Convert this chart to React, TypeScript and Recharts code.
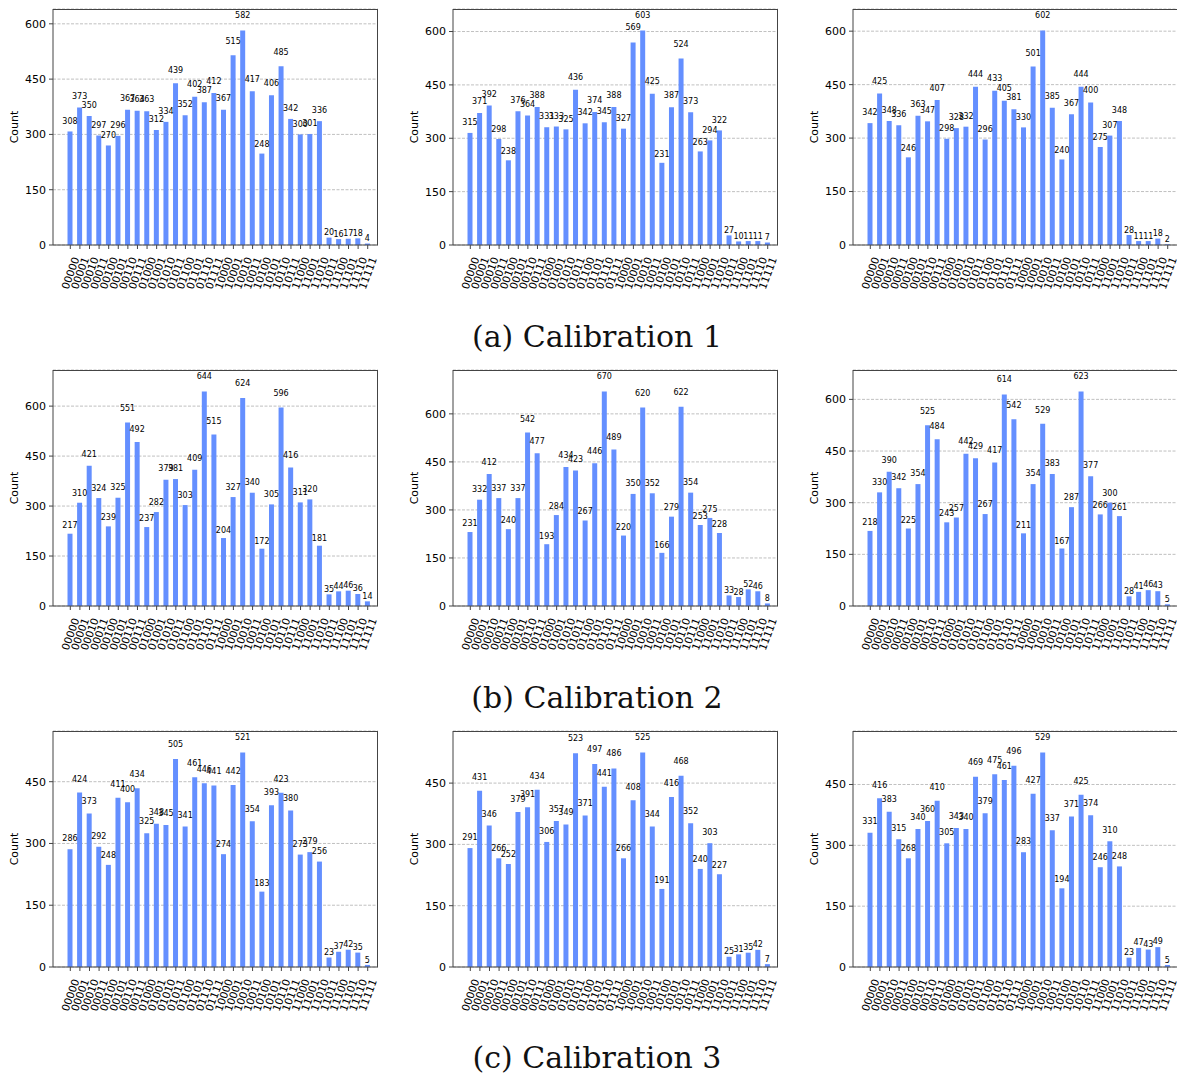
import { Bar, BarChart, CartesianGrid, LabelList, XAxis, YAxis } from "recharts";

// 5-qubit basis states on the x axis
const states = [
  "00000", "00001", "00010", "00011", "00100", "00101", "00110", "00111",
  "01000", "01001", "01010", "01011", "01100", "01101", "01110", "01111",
  "10000", "10001", "10010", "10011", "10100", "10101", "10110", "10111",
  "11000", "11001", "11010", "11011", "11100", "11101", "11110", "11111",
];

// (a) Calibration 1
const cal1Left = [308, 373, 350, 297, 270, 296, 367, 364, 363, 312, 334, 439, 352, 402, 387, 412, 367, 515, 582, 417, 248, 406, 485, 342, 300, 301, 336, 20, 16, 17, 18, 4];
const cal1Mid = [315, 371, 392, 298, 238, 376, 364, 388, 331, 333, 325, 436, 342, 374, 345, 388, 327, 569, 603, 425, 231, 387, 524, 373, 263, 294, 322, 27, 10, 11, 11, 7];
const cal1Right = [342, 425, 348, 336, 246, 363, 347, 407, 298, 328, 332, 444, 296, 433, 405, 381, 330, 501, 602, 385, 240, 367, 444, 400, 275, 307, 348, 28, 11, 11, 18, 2];

// (b) Calibration 2
const cal2Left = [217, 310, 421, 324, 239, 325, 551, 492, 237, 282, 379, 381, 303, 409, 644, 515, 204, 327, 624, 340, 172, 305, 596, 416, 311, 320, 181, 35, 44, 46, 36, 14];
const cal2Mid = [231, 332, 412, 337, 240, 337, 542, 477, 193, 284, 434, 423, 267, 446, 670, 489, 220, 350, 620, 352, 166, 279, 622, 354, 253, 275, 228, 33, 28, 52, 46, 8];
const cal2Right = [218, 330, 390, 342, 225, 354, 525, 484, 243, 257, 442, 429, 267, 417, 614, 542, 211, 354, 529, 383, 167, 287, 623, 377, 266, 300, 261, 28, 41, 46, 43, 5];

// (c) Calibration 3
const cal3Left = [286, 424, 373, 292, 248, 411, 400, 434, 325, 348, 345, 505, 341, 461, 446, 441, 274, 442, 521, 354, 183, 393, 423, 380, 273, 279, 256, 23, 37, 42, 35, 5];
const cal3Mid = [291, 431, 346, 266, 252, 379, 391, 434, 306, 357, 349, 523, 371, 497, 441, 486, 266, 408, 525, 344, 191, 416, 468, 352, 240, 303, 227, 25, 31, 35, 42, 7];
const cal3Right = [331, 416, 383, 315, 268, 340, 360, 410, 305, 343, 340, 469, 379, 475, 461, 496, 283, 427, 529, 337, 194, 371, 425, 374, 246, 310, 248, 23, 47, 43, 49, 5];

const yTicksTall = [0, 150, 300, 450, 600];
const yTicksShort = [0, 150, 300, 450];

const captions = ["(a) Calibration 1", "(b) Calibration 2", "(c) Calibration 3"];

const BAR = "#648fff";
const FONT = "DejaVu Sans";
const SPINE = "#444";

const colLefts = [53, 453, 853];
const rowTops = [9, 370, 731];
const captionMid = [337, 698, 1058];
const PLOT_W = 325;
const PLOT_H = 236;

function StateTick({ x, y, payload }: any) {
  return (
    <g transform={`translate(${x + 9.3},${y + 7.6})`}>
      <text textAnchor="end" transform="rotate(-70)" fontSize={10.5} fontFamily={FONT} fill="#000">
        {payload.value}
      </text>
    </g>
  );
}

// value text sits at 1.05 x bar height, like the original plot
function CountLabel({ x, y, width, height, value }: any) {
  const base = Number(y) - Number(height) * 0.05 - 2;
  return (
    <text x={Number(x) + Number(width) / 2} y={base} textAnchor="middle" fontSize={8} fontFamily={FONT} fill="#000">
      {value}
    </text>
  );
}

function Panel({ values, ticks, left, top }: { values: number[]; ticks: number[]; left: number; top: number }) {
  const rows = states.map((state, i) => ({ state, count: values[i] }));
  const yMax = Math.max(...values) * 1.1;
  return (
    <>
      <div style={{ position: "absolute", left: left - 53, top: top - 4 }}>
        <BarChart width={53 + PLOT_W + 4} height={4 + PLOT_H + 64} data={rows} margin={{ top: 4, right: 4, bottom: 0, left: 0 }}>
          <CartesianGrid vertical={false} stroke="#b0b0b0" strokeDasharray="3 1.5" strokeWidth={0.8} />
          <XAxis
            dataKey="state"
            interval={0}
            height={64}
            tick={<StateTick />}
            tickSize={4}
            padding={{ left: 12.5, right: 5.5 }}
            stroke={SPINE}
          />
          <YAxis
            domain={[0, yMax]}
            ticks={ticks}
            width={53}
            tickSize={4}
            tickMargin={3}
            stroke={SPINE}
            tick={{ fontSize: 11, fill: "#000", fontFamily: FONT }}
            label={{
              value: "Count",
              angle: -90,
              position: "insideLeft",
              offset: 14,
              style: { textAnchor: "middle", fontSize: 11, fill: "#000", fontFamily: FONT },
            }}
          />
          <Bar dataKey="count" fill={BAR} barSize={5} isAnimationActive={false}>
            <LabelList dataKey="count" content={CountLabel} />
          </Bar>
        </BarChart>
      </div>
      {/* top and right spines */}
      <div
        style={{
          position: "absolute",
          left,
          top,
          width: PLOT_W,
          height: PLOT_H,
          borderTop: `1px solid ${SPINE}`,
          borderRight: `1px solid ${SPINE}`,
          boxSizing: "border-box",
          pointerEvents: "none",
        }}
      />
    </>
  );
}

export default function App() {
  const grid = [
    [cal1Left, cal1Mid, cal1Right],
    [cal2Left, cal2Mid, cal2Right],
    [cal3Left, cal3Mid, cal3Right],
  ];
  return (
    <div style={{ position: "absolute", left: 0, top: 0, width: 1177, height: 1078, overflow: "hidden", background: "#fff" }}>
      {grid.map((row, r) =>
        row.map((values, c) => (
          <Panel
            key={`${r}-${c}`}
            values={values}
            ticks={r === 2 ? yTicksShort : yTicksTall}
            left={colLefts[c]}
            top={rowTops[r]}
          />
        ))
      )}
      {captions.map((text, r) => (
        <div
          key={text}
          style={{
            position: "absolute",
            left: 0,
            width: 1194,
            top: captionMid[r] - 18,
            lineHeight: "36px",
            textAlign: "center",
            fontFamily: "DejaVu Serif",
            fontSize: 30,
            color: "#111",
          }}
        >
          {text}
        </div>
      ))}
    </div>
  );
}
